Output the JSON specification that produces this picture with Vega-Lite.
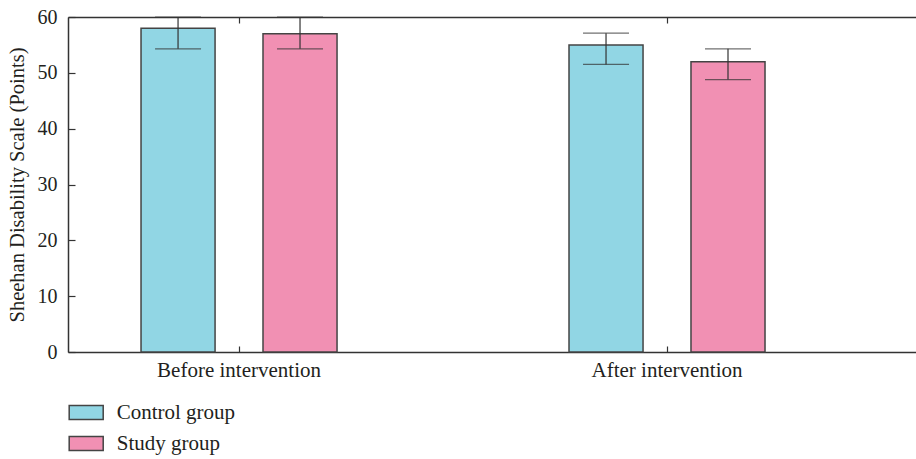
{
  "$schema": "https://vega.github.io/schema/vega-lite/v6.json",
  "width": 848,
  "height": 335,
  "autosize": {"type": "none"},
  "padding": {"left": 68, "top": 17, "right": 0, "bottom": 107},
  "background": "white",
  "config": {
    "view": {"stroke": null},
    "font": "Liberation Serif",
    "axis": {"labelFont": "Liberation Serif", "titleFont": "Liberation Serif", "labelColor": "#231f20", "titleColor": "#231f20", "domainColor": "#333333", "tickColor": "#333333", "domainWidth": 1.5, "tickWidth": 1.2}
  },
  "data": {
    "values": [
      {"time": "Before intervention", "group": "Control group", "mean": 58, "lower": 54.3, "upper": 60},
      {"time": "Before intervention", "group": "Study group", "mean": 57, "lower": 54.3, "upper": 60},
      {"time": "After intervention", "group": "Control group", "mean": 55, "lower": 51.5, "upper": 57.1},
      {"time": "After intervention", "group": "Study group", "mean": 52, "lower": 48.8, "upper": 54.3}
    ]
  },
  "resolve": {"axis": {"x": "independent"}},
  "encoding": {
    "xOffset": {
      "field": "group", "type": "nominal", "sort": ["Control group", "Study group"],
      "scale": {"paddingInner": 0.393, "paddingOuter": 0}
    }
  },
  "layer": [
    {
      "mark": {"type": "bar", "stroke": "#444444", "strokeWidth": 1.5},
      "encoding": {
        "x": {
          "field": "time", "type": "nominal", "sort": ["Before intervention", "After intervention"],
          "scale": {"paddingInner": 0.542, "paddingOuter": 0.2617, "align": 0.326},
          "axis": {"orient": "bottom", "title": null, "labelAngle": 0, "labelFontSize": 21, "tickSize": -6, "labelPadding": 13, "grid": false}
        },
        "y": {
          "field": "mean", "type": "quantitative",
          "scale": {"domain": [0, 60], "nice": false},
          "axis": {"title": "Sheehan Disability Scale (Points)", "titleFontSize": 20.5, "titleFontWeight": "normal", "titlePadding": 10, "labelFontSize": 20, "values": [0, 10, 20, 30, 40, 50, 60], "tickSize": -7, "labelPadding": 18, "grid": false}
        },
        "fill": {
          "field": "group", "type": "nominal",
          "scale": {"domain": ["Control group", "Study group"], "range": ["#91D6E4", "#F190B3"]},
          "legend": {
            "title": null, "orient": "none", "legendX": 5.7, "legendY": 383,
            "symbolType": "M-1.5,-0.62H1.5V0.62H-1.5Z", "symbolSize": 514,
            "symbolStrokeColor": "#444444", "symbolStrokeWidth": 1.5,
            "labelFontSize": 21, "labelColor": "#231f20", "labelOffset": 18, "rowPadding": 8
          }
        }
      }
    },
    {
      "mark": {"type": "rule", "color": "#333333", "strokeWidth": 1.2},
      "encoding": {
        "x": {"field": "time", "type": "nominal", "sort": ["Before intervention", "After intervention"], "axis": {"orient": "top", "labels": false, "title": null, "tickSize": -6, "domain": true, "grid": false}},
        "y": {"field": "lower", "type": "quantitative"},
        "y2": {"field": "upper"}
      }
    },
    {
      "mark": {"type": "tick", "color": "#333333", "thickness": 1.2, "size": 46},
      "encoding": {
        "x": {"field": "time", "type": "nominal", "sort": ["Before intervention", "After intervention"], "axis": null},
        "y": {"field": "lower", "type": "quantitative"}
      }
    },
    {
      "mark": {"type": "tick", "color": "#333333", "thickness": 1.2, "size": 46},
      "encoding": {
        "x": {"field": "time", "type": "nominal", "sort": ["Before intervention", "After intervention"], "axis": null},
        "y": {"field": "upper", "type": "quantitative"}
      }
    }
  ]
}
